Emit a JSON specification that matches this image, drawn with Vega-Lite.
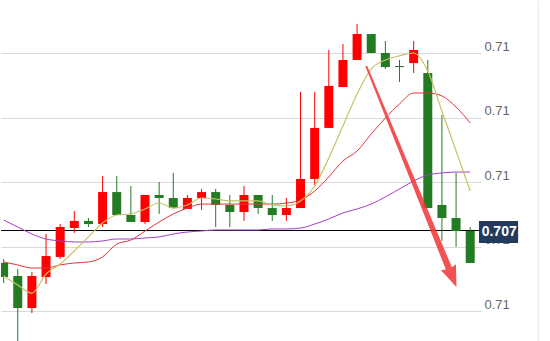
{
  "$schema": "https://vega.github.io/schema/vega-lite/v6.json",
  "width": 480,
  "height": 341,
  "padding": 0,
  "background": "#ffffff",
  "config": {"view": {"stroke": null}},
  "datasets": {
    "candles": [
      {"i": 0, "open": 0.706374, "high": 0.706405, "low": 0.706219, "close": 0.706265},
      {"i": 1, "open": 0.706273, "high": 0.706328, "low": 0.705769, "close": 0.706025},
      {"i": 2, "open": 0.706025, "high": 0.706304, "low": 0.705986, "close": 0.706273},
      {"i": 3, "open": 0.706265, "high": 0.706599, "low": 0.706211, "close": 0.706428},
      {"i": 4, "open": 0.706421, "high": 0.706676, "low": 0.706405, "close": 0.706653},
      {"i": 5, "open": 0.706645, "high": 0.706777, "low": 0.706607, "close": 0.7067},
      {"i": 6, "open": 0.7067, "high": 0.706723, "low": 0.706653, "close": 0.706676},
      {"i": 7, "open": 0.706676, "high": 0.707048, "low": 0.706653, "close": 0.706924},
      {"i": 8, "open": 0.706924, "high": 0.707048, "low": 0.706746, "close": 0.706746},
      {"i": 9, "open": 0.706746, "high": 0.706971, "low": 0.706692, "close": 0.706692},
      {"i": 10, "open": 0.706692, "high": 0.706901, "low": 0.706676, "close": 0.706901},
      {"i": 11, "open": 0.706901, "high": 0.707002, "low": 0.706754, "close": 0.706878},
      {"i": 12, "open": 0.706878, "high": 0.707072, "low": 0.7068, "close": 0.7068},
      {"i": 13, "open": 0.706793, "high": 0.706901, "low": 0.706793, "close": 0.706878},
      {"i": 14, "open": 0.706878, "high": 0.706948, "low": 0.706785, "close": 0.706924},
      {"i": 15, "open": 0.706924, "high": 0.706948, "low": 0.706653, "close": 0.706824},
      {"i": 16, "open": 0.706824, "high": 0.706901, "low": 0.706653, "close": 0.706769},
      {"i": 17, "open": 0.706769, "high": 0.706971, "low": 0.7067, "close": 0.706901},
      {"i": 18, "open": 0.706901, "high": 0.706901, "low": 0.706754, "close": 0.7068},
      {"i": 19, "open": 0.7068, "high": 0.706901, "low": 0.7067, "close": 0.706746},
      {"i": 20, "open": 0.706746, "high": 0.706878, "low": 0.7067, "close": 0.7068},
      {"i": 21, "open": 0.7068, "high": 0.7077, "low": 0.7068, "close": 0.707025},
      {"i": 22, "open": 0.707025, "high": 0.7077, "low": 0.706979, "close": 0.707421},
      {"i": 23, "open": 0.707421, "high": 0.708025, "low": 0.707421, "close": 0.707746},
      {"i": 24, "open": 0.707738, "high": 0.708072, "low": 0.707738, "close": 0.707948},
      {"i": 25, "open": 0.707948, "high": 0.708227, "low": 0.707948, "close": 0.708149},
      {"i": 26, "open": 0.708149, "high": 0.708149, "low": 0.708002, "close": 0.708002},
      {"i": 27, "open": 0.708002, "high": 0.708095, "low": 0.707878, "close": 0.707893},
      {"i": 28, "open": 0.707901, "high": 0.707948, "low": 0.707777, "close": 0.707893},
      {"i": 29, "open": 0.707924, "high": 0.708095, "low": 0.707847, "close": 0.708025},
      {"i": 30, "open": 0.707847, "high": 0.707948, "low": 0.7068, "close": 0.7068},
      {"i": 31, "open": 0.706824, "high": 0.707521, "low": 0.706545, "close": 0.706723},
      {"i": 32, "open": 0.706723, "high": 0.707072, "low": 0.706499, "close": 0.706622},
      {"i": 33, "open": 0.706622, "high": 0.706653, "low": 0.706374, "close": 0.706374}
    ],
    "ma": [
      {"i": 0, "ma5": 0.706273, "ma10": 0.706382, "ma30": 0.706707},
      {"i": 1, "ma5": 0.706203, "ma10": 0.706359, "ma30": 0.706653},
      {"i": 2, "ma5": 0.706141, "ma10": 0.706335, "ma30": 0.706599},
      {"i": 3, "ma5": 0.706289, "ma10": 0.706335, "ma30": 0.70656},
      {"i": 4, "ma5": 0.706366, "ma10": 0.706359, "ma30": 0.706545},
      {"i": 5, "ma5": 0.706467, "ma10": 0.706374, "ma30": 0.706537},
      {"i": 6, "ma5": 0.706576, "ma10": 0.706382, "ma30": 0.706537},
      {"i": 7, "ma5": 0.706684, "ma10": 0.706421, "ma30": 0.706545},
      {"i": 8, "ma5": 0.706746, "ma10": 0.706521, "ma30": 0.70656},
      {"i": 9, "ma5": 0.706754, "ma10": 0.706552, "ma30": 0.70656},
      {"i": 10, "ma5": 0.706793, "ma10": 0.706622, "ma30": 0.706568},
      {"i": 11, "ma5": 0.706839, "ma10": 0.706692, "ma30": 0.706576},
      {"i": 12, "ma5": 0.7068, "ma10": 0.706754, "ma30": 0.706599},
      {"i": 13, "ma5": 0.706824, "ma10": 0.7068, "ma30": 0.706614},
      {"i": 14, "ma5": 0.706878, "ma10": 0.706831, "ma30": 0.706622},
      {"i": 15, "ma5": 0.70687, "ma10": 0.706831, "ma30": 0.70663},
      {"i": 16, "ma5": 0.706855, "ma10": 0.706831, "ma30": 0.70663},
      {"i": 17, "ma5": 0.706855, "ma10": 0.706831, "ma30": 0.70663},
      {"i": 18, "ma5": 0.706855, "ma10": 0.706831, "ma30": 0.70663},
      {"i": 19, "ma5": 0.706824, "ma10": 0.706831, "ma30": 0.706638},
      {"i": 20, "ma5": 0.706816, "ma10": 0.706839, "ma30": 0.706638},
      {"i": 21, "ma5": 0.706855, "ma10": 0.706862, "ma30": 0.706645},
      {"i": 22, "ma5": 0.706971, "ma10": 0.706932, "ma30": 0.706676},
      {"i": 23, "ma5": 0.707188, "ma10": 0.707041, "ma30": 0.706715},
      {"i": 24, "ma5": 0.707436, "ma10": 0.707165, "ma30": 0.706762},
      {"i": 25, "ma5": 0.707684, "ma10": 0.707242, "ma30": 0.706793},
      {"i": 26, "ma5": 0.707878, "ma10": 0.707374, "ma30": 0.706831},
      {"i": 27, "ma5": 0.707948, "ma10": 0.707498, "ma30": 0.706886},
      {"i": 28, "ma5": 0.707979, "ma10": 0.707607, "ma30": 0.706948},
      {"i": 29, "ma5": 0.708002, "ma10": 0.707692, "ma30": 0.70701},
      {"i": 30, "ma5": 0.707862, "ma10": 0.707692, "ma30": 0.707056},
      {"i": 31, "ma5": 0.707552, "ma10": 0.707669, "ma30": 0.707072},
      {"i": 32, "ma5": 0.707242, "ma10": 0.707583, "ma30": 0.707079},
      {"i": 33, "ma5": 0.706932, "ma10": 0.707459, "ma30": 0.707079}
    ],
    "arrow": [
      {"i": 28.84, "price": 0.7070445}
    ],
    "last": [
      {"price": 0.706626, "label": "0.707"}
    ],
    "frame": [
      {"i": 37.81}
    ]
  },
  "encoding": {
    "x": {"type": "quantitative", "scale": {"domain": [0.169, 33.41], "nice": false, "zero": false}, "axis": null},
    "y": {"type": "quantitative", "scale": {"domain": [0.7057616, 0.708405], "nice": false, "zero": false}}
  },
  "layer": [
    {
      "data": {"name": "frame"},
      "mark": {"type": "rule", "color": "#e6e6e6", "strokeWidth": 1},
      "encoding": {"x": {"field": "i"}}
    },
    {
      "data": {"name": "last"},
      "mark": {"type": "rule", "color": "#000000", "strokeWidth": 1},
      "encoding": {
        "y": {"field": "price", "axis": {"orient": "right", "values": [0.706, 0.7065, 0.707, 0.7075, 0.708], "format": ".2f", "grid": true, "gridColor": "#d9d9d9", "gridWidth": 1, "domain": false, "ticks": false, "labelPadding": 3, "labelFont": "Liberation Sans", "labelFontSize": 13, "labelColor": "#666666", "labelBaseline": "alphabetic", "labelOffset": -3, "title": null}}
      }
    },
    {
      "data": {"name": "candles"},
      "mark": {"type": "rule", "strokeWidth": 1, "clip": true},
      "encoding": {
        "x": {"field": "i"},
        "y": {"field": "low"},
        "y2": {"field": "high"},
        "color": {"condition": {"test": "datum.close > datum.open", "value": "#ff0000"}, "value": "#237b23"}
      }
    },
    {
      "data": {"name": "candles"},
      "mark": {"type": "bar", "size": 9, "clip": true},
      "encoding": {
        "x": {"field": "i"},
        "y": {"field": "open"},
        "y2": {"field": "close"},
        "color": {"condition": {"test": "datum.close > datum.open", "value": "#ff0000"}, "value": "#237b23"}
      }
    },
    {
      "data": {"name": "ma"},
      "mark": {"type": "line", "color": "#a43fc4", "strokeWidth": 1, "interpolate": "monotone", "clip": true},
      "encoding": {"x": {"field": "i"}, "y": {"field": "ma30"}}
    },
    {
      "data": {"name": "ma"},
      "mark": {"type": "line", "color": "#e3343a", "strokeWidth": 1, "interpolate": "monotone", "clip": true},
      "encoding": {"x": {"field": "i"}, "y": {"field": "ma10"}}
    },
    {
      "data": {"name": "ma"},
      "mark": {"type": "line", "color": "#c9c265", "strokeWidth": 1.2, "interpolate": "monotone", "clip": true},
      "encoding": {"x": {"field": "i"}, "y": {"field": "ma5"}}
    },
    {
      "data": {"name": "arrow"},
      "mark": {"type": "point", "shape": "M-0.008,-1L0.008,-1L0.027,0.832L0.068,0.822L0,1L-0.068,0.822L-0.027,0.832Z", "filled": true, "color": "#f03a3a", "opacity": 0.88, "size": 56930, "angle": 337.8},
      "encoding": {"x": {"field": "i"}, "y": {"field": "price"}}
    },
    {
      "data": {"name": "last"},
      "mark": {"type": "rect", "color": "#233a5c"},
      "encoding": {"x": {"datum": 33.62}, "x2": {"datum": 36.39}, "y": {"datum": 0.7067}, "y2": {"datum": 0.706529}}
    },
    {
      "data": {"name": "last"},
      "mark": {"type": "text", "color": "#ffffff", "font": "Liberation Sans", "fontSize": 14, "fontWeight": "bold", "align": "center", "baseline": "middle"},
      "encoding": {"x": {"datum": 35.05}, "y": {"datum": 0.706614}, "text": {"field": "label"}}
    }
  ]
}
